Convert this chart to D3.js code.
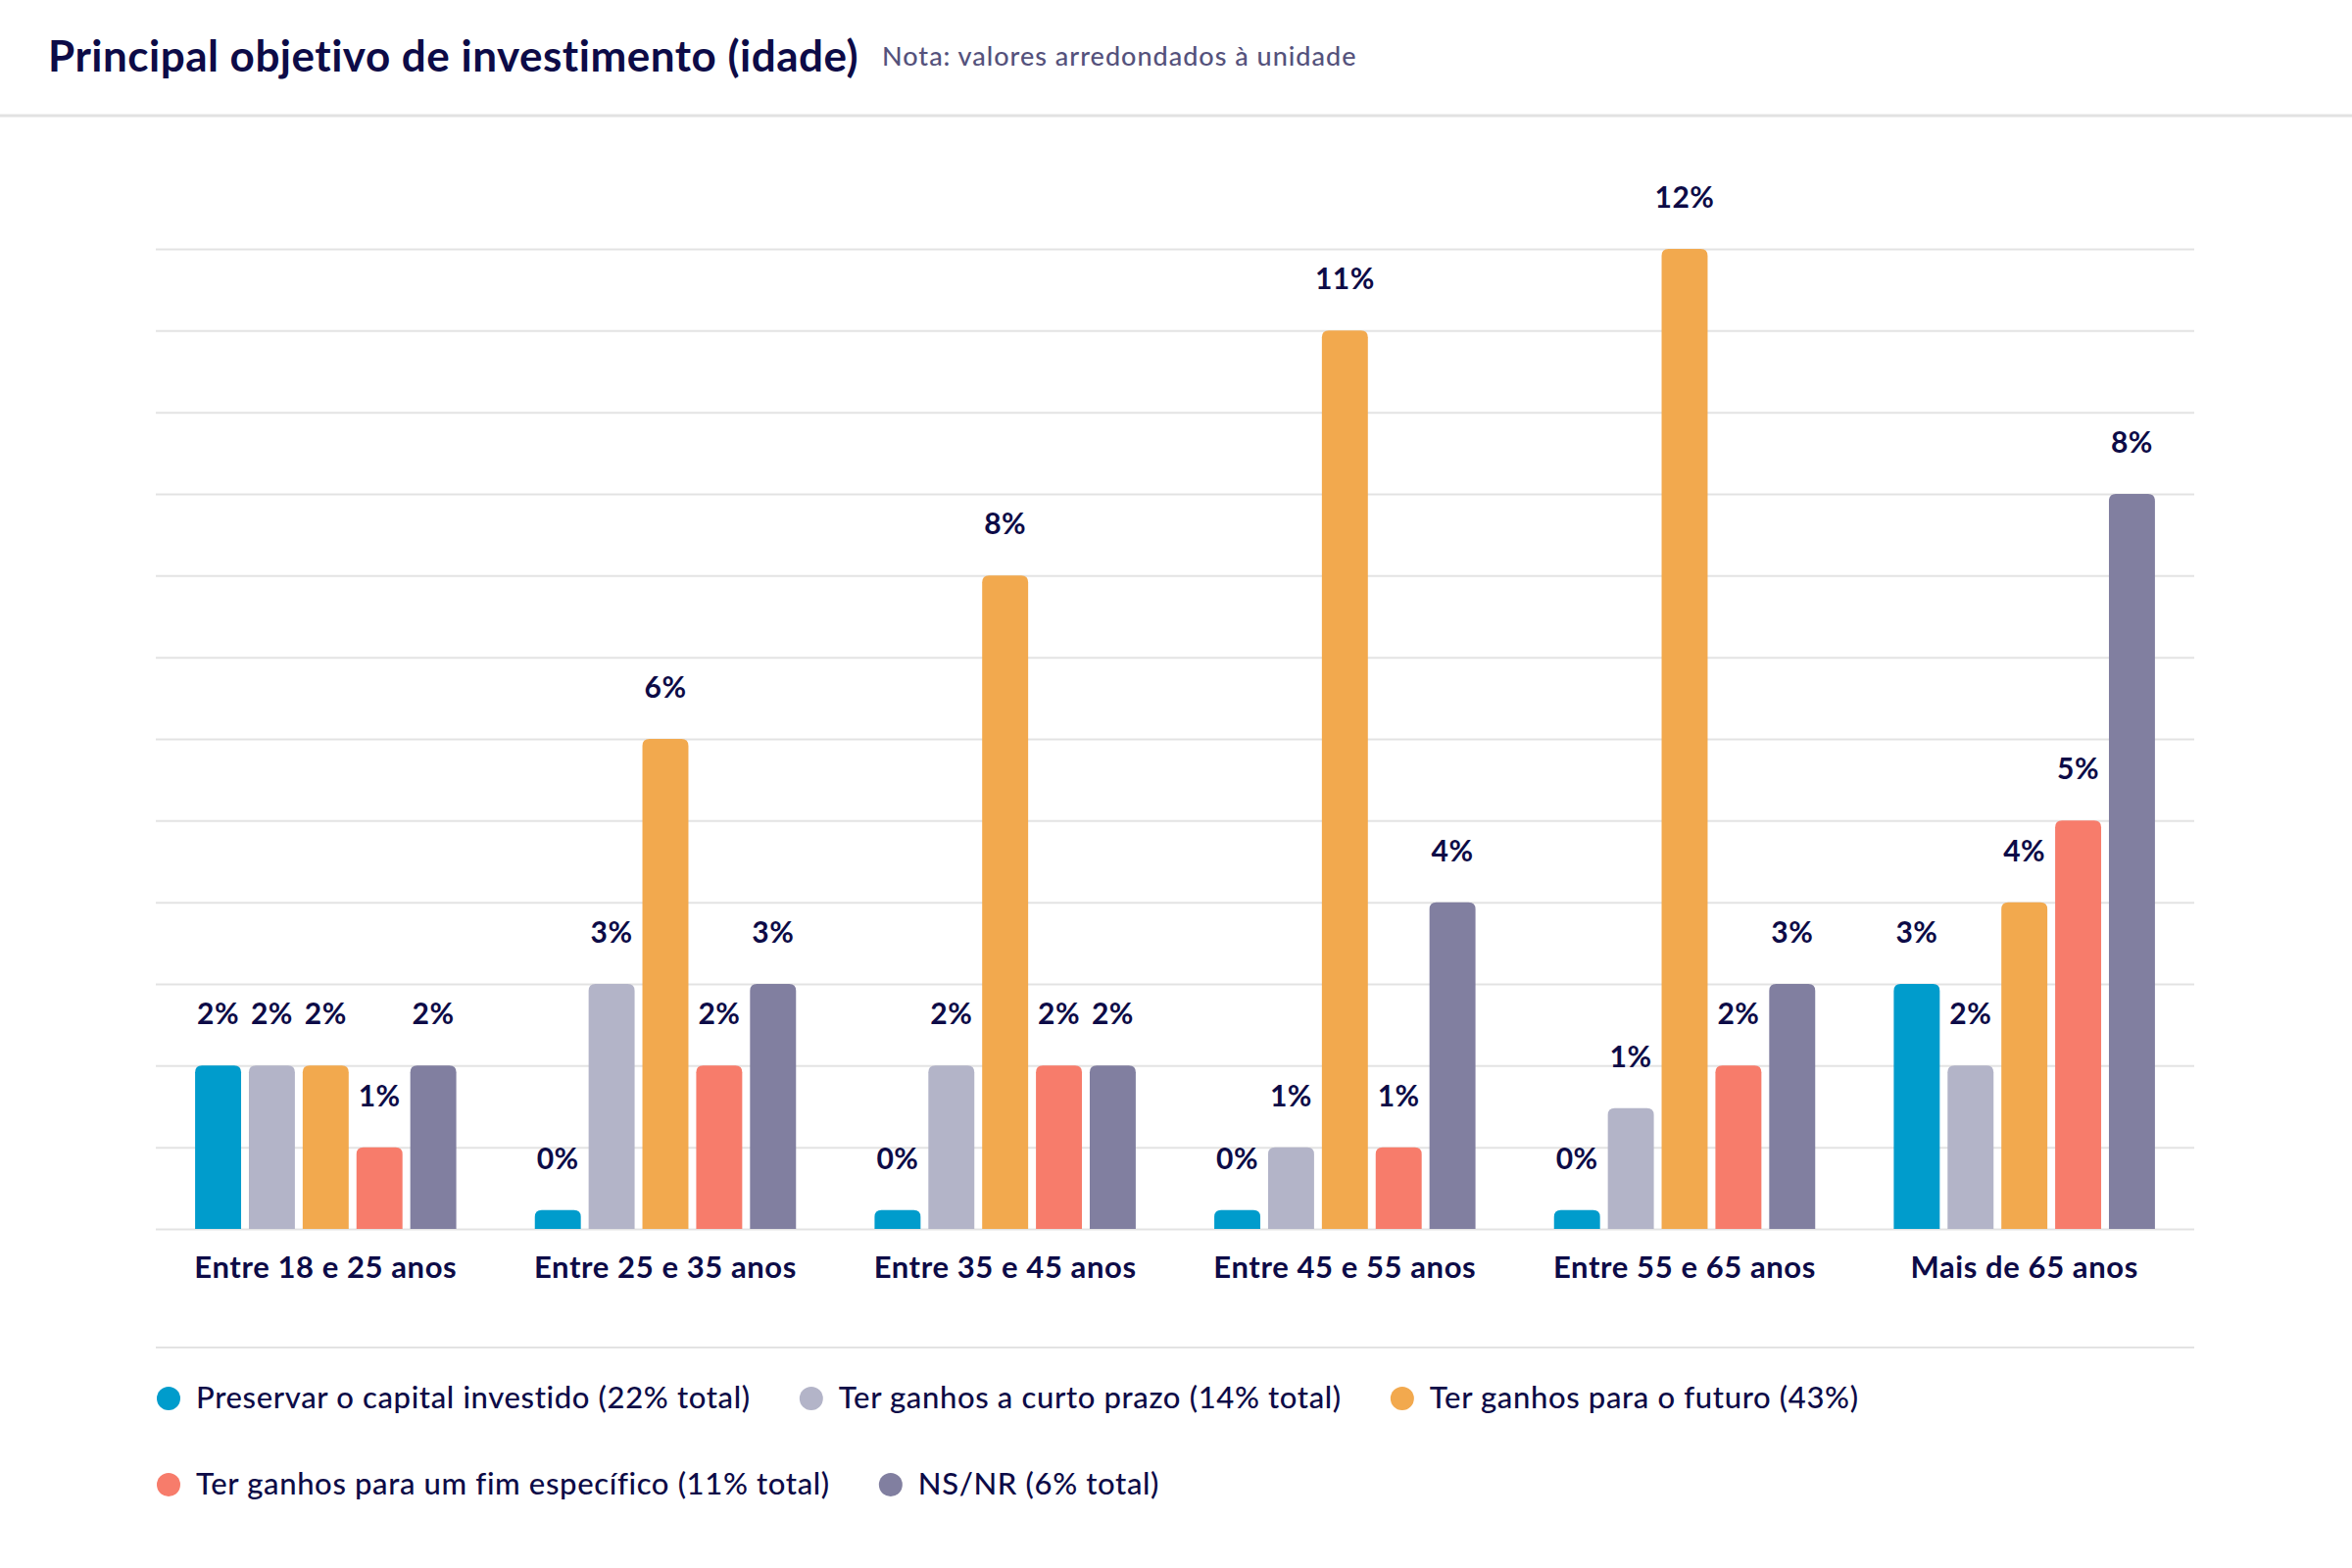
<!DOCTYPE html>
<html>
<head>
<meta charset="utf-8">
<script src="https://cdn.jsdelivr.net/npm/d3@7.9.0/dist/d3.min.js"></script>
<style>
  body { margin: 0; background: #fff; }
  svg { display: block; font-family: Lato, "Open Sans", sans-serif; }
</style>
</head>
<body>
<svg id="chart" width="2400" height="1600"></svg>
<script>
const categories = ['Entre 18 e 25 anos', 'Entre 25 e 35 anos', 'Entre 35 e 45 anos',
  'Entre 45 e 55 anos', 'Entre 55 e 65 anos', 'Mais de 65 anos'];

const seriesNames = ['Preservar o capital investido (22% total)', 'Ter ganhos a curto prazo (14% total)',
  'Ter ganhos para o futuro (43%)', 'Ter ganhos para um fim específico (11% total)', 'NS/NR (6% total)'];
const seriesColors = ['#009ccc', '#b3b4c8', '#f2a94e', '#f77c6b', '#817fa0'];

// bar heights per series, one per age group
const preservar = [2, 0.23, 0.23, 0.23, 0.23, 3];
const curtoPrazo = [2, 3, 2, 1, 1.48, 2];
const futuro = [2, 6, 8, 11, 12, 4];
const fimEspecifico = [1, 2, 2, 1, 2, 5];
const nsnr = [2, 3, 2, 4, 3, 9];
const seriesValues = [preservar, curtoPrazo, futuro, fimEspecifico, nsnr];

// printed labels (rounded values as shown)
const preservarLbl = [2, 0, 0, 0, 0, 3];
const curtoPrazoLbl = [2, 3, 2, 1, 1, 2];
const futuroLbl = [2, 6, 8, 11, 12, 4];
const fimEspecificoLbl = [1, 2, 2, 1, 2, 5];
const nsnrLbl = [2, 3, 2, 4, 3, 8];
const seriesLabels = [preservarLbl, curtoPrazoLbl, futuroLbl, fimEspecificoLbl, nsnrLbl];

const yTicks = d3.range(0, 13);

const navy = '#0d0b47';
const svg = d3.select('#chart');

const plotLeft = 159, plotRight = 2239, plotTop = 254, plotBottom = 1254;

const x0 = d3.scaleBand().domain(categories).range([plotLeft, plotRight]);
const x1 = d3.scaleBand().domain(d3.range(seriesNames.length)).range([-133.25, 133.25]).paddingInner(0.145);
const y = d3.scaleLinear().domain([0, 12]).range([plotBottom, plotTop]);

// header
svg.append('text')
  .attr('x', 49).attr('y', 73)
  .attr('fill', navy).attr('font-size', 44).attr('font-weight', 700)
  .attr('letter-spacing', 0.5)
  .text('Principal objetivo de investimento (idade)');
svg.append('text')
  .attr('x', 900).attr('y', 67)
  .attr('fill', '#55527c').attr('font-size', 27).attr('font-weight', 500)
  .attr('letter-spacing', 1)
  .text('Nota: valores arredondados à unidade');
svg.append('line')
  .attr('x1', 0).attr('x2', 2400).attr('y1', 118).attr('y2', 118)
  .attr('stroke', '#e2e2e2').attr('stroke-width', 3);

// grid
const grid = svg.append('g')
  .attr('transform', `translate(${plotLeft},0)`)
  .call(d3.axisLeft(y).tickValues(yTicks).tickSize(-(plotRight - plotLeft)).tickFormat(''));
grid.select('.domain').remove();
grid.selectAll('.tick line').attr('stroke', '#e3e3e3').attr('stroke-width', 2);

// bars with rounded tops
function barPath(x, yTop, w, h, r) {
  r = Math.min(r, h, w / 2);
  return `M${x},${yTop + h}V${yTop + r}Q${x},${yTop} ${x + r},${yTop}H${x + w - r}Q${x + w},${yTop} ${x + w},${yTop + r}V${yTop + h}Z`;
}

const rows = [];
categories.forEach((c, ci) => {
  seriesValues.forEach((vals, si) => rows.push({ cat: c, s: si, v: vals[ci], lbl: seriesLabels[si][ci] }));
});

const bw = x1.bandwidth();
const bx = d => x0(d.cat) + x0.bandwidth() / 2 + x1(d.s);

svg.append('g').selectAll('path')
  .data(rows)
  .join('path')
  .attr('d', d => barPath(bx(d), y(d.v), bw, plotBottom - y(d.v), 7))
  .attr('fill', d => seriesColors[d.s]);

svg.append('g').selectAll('text')
  .data(rows)
  .join('text')
  .attr('x', d => bx(d) + bw / 2)
  .attr('y', d => y(d.v) - 42)
  .attr('text-anchor', 'middle')
  .attr('fill', navy).attr('font-size', 30).attr('font-weight', 700)
  .attr('letter-spacing', 0.5)
  .text(d => d.lbl + '%');

// category axis
const xAxis = svg.append('g')
  .attr('transform', `translate(0,${plotBottom})`)
  .call(d3.axisBottom(x0).tickSize(0));
xAxis.select('.domain').remove();
xAxis.selectAll('.tick text')
  .attr('y', 50).attr('dy', 0)
  .attr('fill', navy).attr('font-size', 31).attr('font-weight', 700)
  .attr('letter-spacing', 0.6)
  .attr('font-family', 'Lato, sans-serif');

// legend
svg.append('line')
  .attr('x1', plotLeft).attr('x2', plotRight).attr('y1', 1375).attr('y2', 1375)
  .attr('stroke', '#e3e3e3').attr('stroke-width', 2);

const legendRows = [[0, 1, 2], [3, 4]];
const legendY = [1427, 1515];
legendRows.forEach((items, ri) => {
  let x = 172;
  items.forEach(si => {
    const g = svg.append('g').attr('transform', `translate(${x},${legendY[ri]})`);
    g.append('circle').attr('r', 12).attr('fill', seriesColors[si]);
    const t = g.append('text')
      .attr('x', 28).attr('y', 10)
      .attr('fill', navy).attr('font-size', 31).attr('font-weight', 500)
      .attr('letter-spacing', 0.65)
      .text(seriesNames[si]);
    x += 28 + t.node().getComputedTextLength() + 62;
  });
});
</script>
</body>
</html>
